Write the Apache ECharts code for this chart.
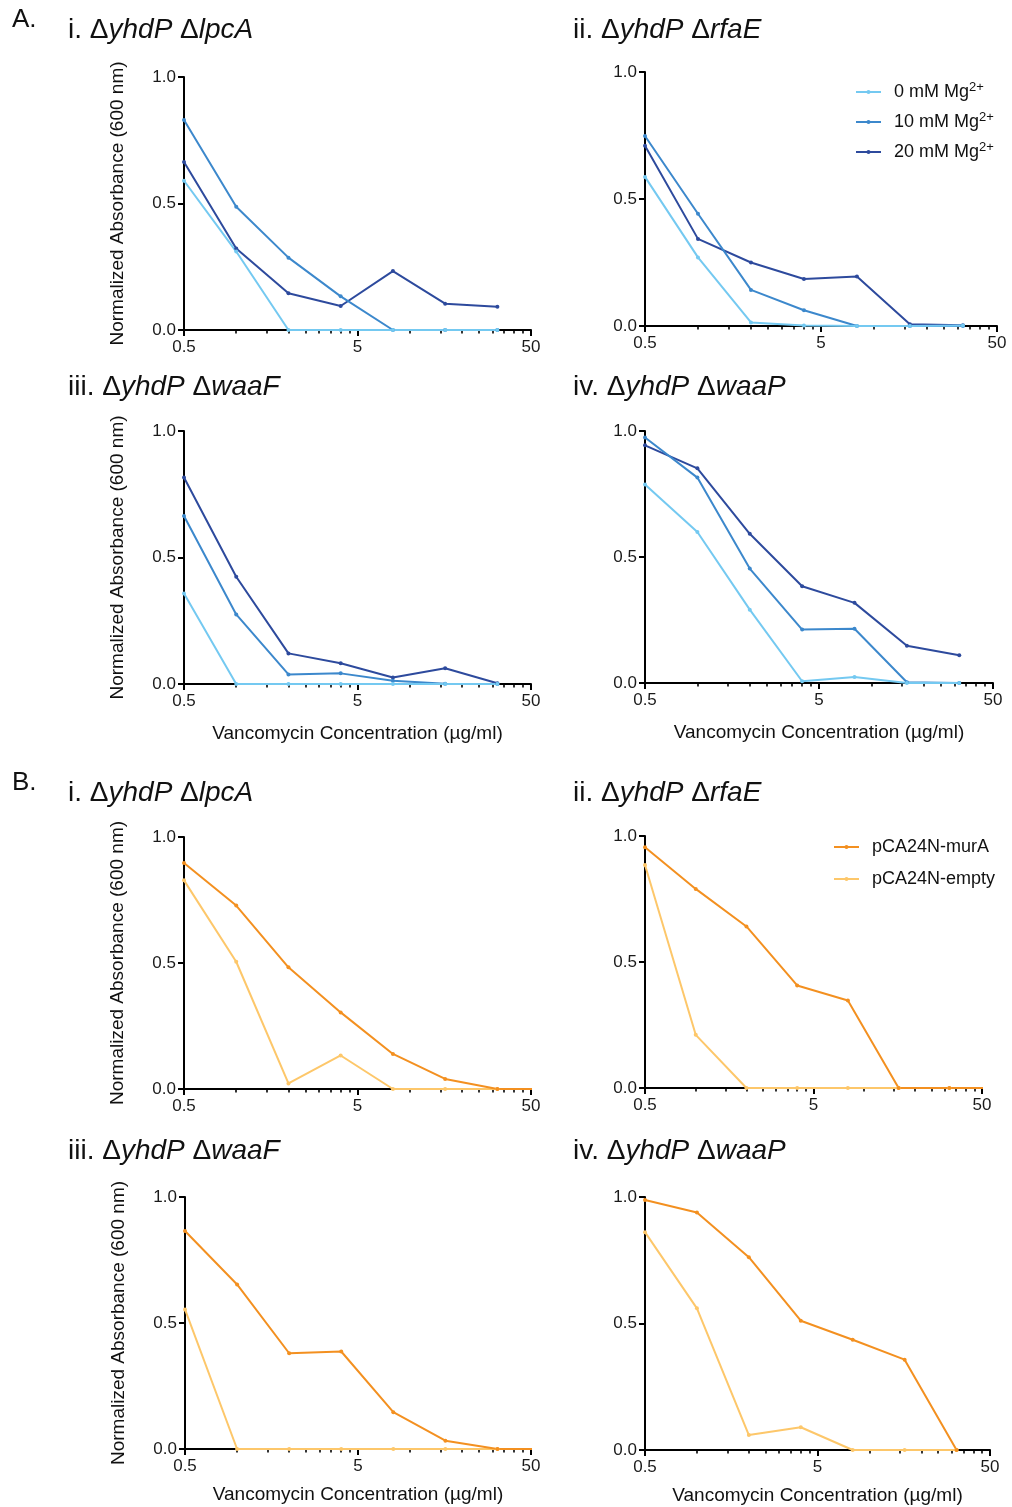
<!DOCTYPE html>
<html>
<head>
<meta charset="utf-8">
<script src="https://cdn.jsdelivr.net/npm/echarts@6/dist/echarts.min.js"></script>
<style>
  html, body { margin: 0; padding: 0; background: #ffffff; }
  #chart { width: 1012px; height: 1507px; }
</style>
</head>
<body>
<div id="chart"></div>
<script>
// Vancomycin two-fold dilution series (µg/ml)
const concentrations = [0.5, 1, 2, 4, 8, 16, 32];
const concentrationsExtended = [0.5, 1, 2, 4, 8, 16, 32, 64];

// Axis tick values
const xMajorTicks = [0.5, 5, 50];
const xMinorTicks = [1, 1.5, 2, 2.5, 3, 3.5, 4, 4.5, 10, 15, 20, 25, 30, 35, 40, 45];
const yTicks = [0, 0.5, 1];

// Series names
const magnesiumLevels = ['0 mM Mg2+', '10 mM Mg2+', '20 mM Mg2+'];
const plasmids = ['pCA24N-murA', 'pCA24N-empty'];

// A. Normalized absorbance with Mg2+ supplementation
const lpcA_mg0  = [0.59, 0.31, 0, 0, 0, 0, 0];
const lpcA_mg10 = [0.83, 0.487, 0.286, 0.133, 0, 0, 0];
const lpcA_mg20 = [0.664, 0.322, 0.145, 0.095, 0.233, 0.104, 0.092];

const rfaE_mg0  = [0.587, 0.27, 0.014, 0.002, 0, 0, 0.002];
const rfaE_mg10 = [0.748, 0.442, 0.142, 0.062, 0, 0, 0];
const rfaE_mg20 = [0.71, 0.343, 0.25, 0.185, 0.195, 0.007, 0.003];

const waaF_mg0  = [0.358, 0, 0, 0, 0, 0, 0];
const waaF_mg10 = [0.664, 0.275, 0.038, 0.042, 0.013, 0.001, 0];
const waaF_mg20 = [0.816, 0.424, 0.121, 0.082, 0.026, 0.062, 0.003];

const waaP_mg0  = [0.788, 0.599, 0.291, 0.007, 0.024, 0, 0];
const waaP_mg10 = [0.974, 0.815, 0.454, 0.212, 0.215, 0.003, 0];
const waaP_mg20 = [0.943, 0.852, 0.592, 0.384, 0.318, 0.148, 0.11];

// B. Normalized absorbance with murA overexpression
const lpcA_murA  = [0.897, 0.728, 0.483, 0.304, 0.139, 0.04, 0, 0];
const lpcA_empty = [0.828, 0.505, 0.022, 0.133, 0, 0, 0];
const rfaE_murA  = [0.955, 0.79, 0.641, 0.407, 0.347, 0, 0, 0];
const rfaE_empty = [0.885, 0.211, 0, 0, 0, 0, 0];
const waaF_murA  = [0.865, 0.653, 0.38, 0.387, 0.146, 0.033, 0, 0];
const waaF_empty = [0.554, 0, 0, 0, 0, 0, 0];
const waaP_murA  = [0.988, 0.939, 0.762, 0.511, 0.436, 0.357, 0];
const waaP_empty = [0.861, 0.56, 0.059, 0.09, 0, 0, 0];

// ---- styling ----
const FONT = "'Liberation Sans', Arial, Helvetica, sans-serif";
const INK = '#111111';
const COLORS = {
  '0 mM Mg2+': '#74c9f1',
  '10 mM Mg2+': '#3c88cc',
  '20 mM Mg2+': '#2d4a9d',
  'pCA24N-murA': '#f39020',
  'pCA24N-empty': '#fdc76a'
};

// concentration -> decades above 0.5 µg/ml (log10 axis coordinate)
const X_BASE = 0.5;
const toAxis = c => Math.log10(c / X_BASE);
const fromAxis = v => +(X_BASE * Math.pow(10, v)).toPrecision(3);

const panels = [
  { roman: 'i.',   genes: ['yhdP', 'lpcA'], grid: { left: 184, top: 77,   width: 347, height: 253 }, titleY: 30,
    x: concentrations, series: [['20 mM Mg2+', lpcA_mg20], ['10 mM Mg2+', lpcA_mg10], ['0 mM Mg2+', lpcA_mg0]], yName: true },
  { roman: 'ii.',  genes: ['yhdP', 'rfaE'], grid: { left: 645, top: 72,   width: 352, height: 254 }, titleY: 30,
    x: concentrations, series: [['20 mM Mg2+', rfaE_mg20], ['10 mM Mg2+', rfaE_mg10], ['0 mM Mg2+', rfaE_mg0]] },
  { roman: 'iii.', genes: ['yhdP', 'waaF'], grid: { left: 184, top: 431,  width: 347, height: 253 }, titleY: 387,
    x: concentrations, series: [['20 mM Mg2+', waaF_mg20], ['10 mM Mg2+', waaF_mg10], ['0 mM Mg2+', waaF_mg0]], yName: true, xName: 40 },
  { roman: 'iv.',  genes: ['yhdP', 'waaP'], grid: { left: 645, top: 431,  width: 348, height: 252 }, titleY: 387,
    x: concentrations, series: [['20 mM Mg2+', waaP_mg20], ['10 mM Mg2+', waaP_mg10], ['0 mM Mg2+', waaP_mg0]], xName: 40 },
  { roman: 'i.',   genes: ['yhdP', 'lpcA'], grid: { left: 184, top: 837,  width: 347, height: 252 }, titleY: 793,
    series: [['pCA24N-empty', lpcA_empty, concentrations], ['pCA24N-murA', lpcA_murA, concentrationsExtended]], yName: true },
  { roman: 'ii.',  genes: ['yhdP', 'rfaE'], grid: { left: 645, top: 836,  width: 337, height: 252 }, titleY: 793,
    series: [['pCA24N-empty', rfaE_empty, concentrations], ['pCA24N-murA', rfaE_murA, concentrationsExtended]] },
  { roman: 'iii.', genes: ['yhdP', 'waaF'], grid: { left: 185, top: 1197, width: 346, height: 252 }, titleY: 1151,
    series: [['pCA24N-empty', waaF_empty, concentrations], ['pCA24N-murA', waaF_murA, concentrationsExtended]], yName: true, xName: 36 },
  { roman: 'iv.',  genes: ['yhdP', 'waaP'], grid: { left: 645, top: 1197, width: 345, height: 253 }, titleY: 1151,
    series: [['pCA24N-empty', waaP_empty, concentrations], ['pCA24N-murA', waaP_murA, concentrations]], xName: 36 }
];

const titles = [
  { text: 'A.', left: 12, top: 20 - 13, padding: 0, textStyle: { fontFamily: FONT, fontSize: 26, fontWeight: 'normal', color: INK } },
  { text: 'B.', left: 12, top: 783 - 13, padding: 0, textStyle: { fontFamily: FONT, fontSize: 26, fontWeight: 'normal', color: INK } }
];
const grids = [];
const xAxes = [];
const yAxes = [];
const series = [];

const axisLine = { show: true, onZero: false, lineStyle: { color: '#000', width: 2 } };

panels.forEach((p, i) => {
  const titleLeft = p.grid.left < 400 ? 68 : 573;
  titles.push({
    text: p.roman + ' Δ{it|' + p.genes[0] + '} Δ{it|' + p.genes[1] + '}',
    left: titleLeft, top: p.titleY - 14, padding: 0,
    textStyle: {
      fontFamily: FONT, fontSize: 28, fontWeight: 'normal', color: INK,
      rich: { it: { fontFamily: FONT, fontSize: 28, fontStyle: 'italic', color: INK } }
    }
  });

  grids.push(Object.assign({ containLabel: false }, p.grid));

  // main x axis: major ticks and labels
  xAxes.push({
    type: 'value', gridIndex: i, position: 'bottom',
    min: toAxis(xMajorTicks[0]), max: toAxis(xMajorTicks[xMajorTicks.length - 1]), interval: 1,
    axisLine: axisLine,
    axisTick: { show: true, length: 6, lineStyle: { color: '#000', width: 2 } },
    axisLabel: { show: true, margin: 9, fontFamily: FONT, fontSize: 17, color: '#1a1a1a', formatter: v => String(fromAxis(v)) },
    splitLine: { show: false },
    name: p.xName ? 'Vancomycin Concentration (µg/ml)' : '',
    nameLocation: 'middle', nameGap: p.xName || 0,
    nameTextStyle: { fontFamily: FONT, fontSize: 19, color: INK }
  });
  // companion x axis carrying the minor log ticks
  xAxes.push({
    type: 'value', gridIndex: i, position: 'bottom',
    min: toAxis(xMajorTicks[0]), max: toAxis(xMajorTicks[xMajorTicks.length - 1]),
    axisLine: { show: false },
    axisTick: { show: true, length: 3.5, customValues: xMinorTicks.map(toAxis), lineStyle: { color: '#000', width: 1.6 } },
    axisLabel: { show: false },
    splitLine: { show: false }
  });

  yAxes.push({
    type: 'value', gridIndex: i, position: 'left',
    min: yTicks[0], max: yTicks[yTicks.length - 1], interval: 0.5,
    axisLine: axisLine,
    axisTick: { show: true, length: 6, lineStyle: { color: '#000', width: 2 } },
    axisLabel: { show: true, margin: 8, fontFamily: FONT, fontSize: 17, color: '#1a1a1a', formatter: v => v.toFixed(1) },
    splitLine: { show: false },
    name: p.yName ? 'Normalized Absorbance (600 nm)' : '',
    nameLocation: 'middle', nameGap: 57,
    nameTextStyle: { fontFamily: FONT, fontSize: 19, color: INK }
  });

  p.series.forEach(([name, values, xs]) => {
    const xv = xs || p.x;
    series.push({
      type: 'line', name: name,
      xAxisIndex: 2 * i, yAxisIndex: i,
      data: values.map((v, k) => [toAxis(xv[k]), v]),
      symbol: 'circle', symbolSize: 4, showSymbol: true,
      clip: true,
      color: COLORS[name],
      lineStyle: { width: 2, color: COLORS[name] },
      itemStyle: { color: COLORS[name] },
      emphasis: { disabled: true },
      z: 3
    });
  });
});

const legendText = {
  fontFamily: FONT, fontSize: 18, color: INK, lineHeight: 22, padding: [0, 0, 0, 8],
  rich: { sup: { fontFamily: FONT, fontSize: 13, lineHeight: 12, verticalAlign: 'top', color: INK } }
};

const option = {
  backgroundColor: '#ffffff',
  animation: false,
  title: titles,
  grid: grids,
  xAxis: xAxes,
  yAxis: yAxes,
  legend: [
    {
      data: magnesiumLevels, orient: 'vertical', left: 855, top: 81, padding: 0,
      itemWidth: 25, itemHeight: 5, itemGap: 8,
      formatter: n => n.replace('2+', '{sup|2+}'),
      textStyle: legendText, selectedMode: false
    },
    {
      data: plasmids, orient: 'vertical', left: 833, top: 836, padding: 0,
      itemWidth: 25, itemHeight: 5, itemGap: 10,
      textStyle: legendText, selectedMode: false
    }
  ],
  series: series
};

const chart = echarts.init(document.getElementById('chart'), null, { renderer: 'canvas' });
chart.setOption(option);
</script>
</body>
</html>
